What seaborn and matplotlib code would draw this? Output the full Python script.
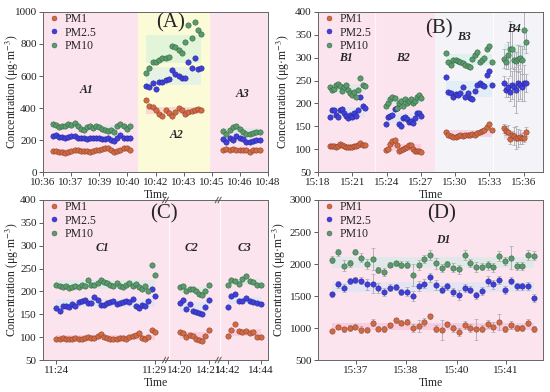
import numpy as np
import pandas as pd
import matplotlib
matplotlib.use("Agg")
import matplotlib.pyplot as plt
import seaborn as sns
from matplotlib.lines import Line2D
from matplotlib.transforms import blended_transform_factory, ScaledTranslation

# ---------------- data ----------------
series = ["PM1", "PM2.5", "PM10"]

# Panel A (x in tick-index units)
a_ticks = ["10:36", "10:37", "10:39", "10:40", "10:42", "10:43", "10:45", "10:46", "10:48"]
a1_pm1 = [130, 130, 128, 125, 120, 128, 132, 138, 140, 130, 132, 130, 128, 130, 135, 140, 145, 148, 150, 135, 128, 130, 135, 148, 152, 140]
a1_pm25 = [222, 230, 218, 220, 215, 218, 225, 222, 212, 215, 210, 208, 212, 210, 215, 212, 208, 205, 210, 200, 195, 212, 232, 215, 212, 210]
a1_pm10 = [300, 295, 280, 285, 290, 300, 295, 305, 285, 270, 265, 280, 290, 275, 285, 280, 270, 260, 255, 265, 250, 285, 300, 285, 270, 285]
a2_pm1 = [450, 415, 405, 390, 360, 350, 385, 370, 350, 375, 400, 385, 365, 375, 380, 385, 395, 385]
a2_pm25 = [535, 530, 555, 520, 560, 565, 575, 580, 640, 610, 600, 590, 585, 690, 650, 715, 645, 650]
a2_pm10 = [620, 650, 690, 690, 700, 715, 710, 720, 790, 780, 760, 745, 810, 920, 840, 940, 890, 860]
a3_pm1 = [140, 142, 140, 142, 140, 138, 140, 135, 125, 138, 140, 135]
a3_pm25 = [205, 185, 210, 200, 222, 215, 205, 185, 190, 195, 200, 198]
a3_pm10 = [255, 240, 265, 280, 290, 270, 250, 240, 238, 245, 252, 248]

# Panel B (x in minutes after 15:18)
b_ticks = ["15:18", "15:21", "15:24", "15:27", "15:30", "15:33", "15:36"]
b1_pm1 = [107, 107, 106, 105, 106, 112, 110, 107, 105, 104, 105, 104, 106, 107, 109, 113, 110, 110]
b1_pm25 = [170, 185, 185, 175, 170, 185, 188, 178, 172, 168, 175, 170, 178, 172, 185, 215, 195, 190]
b1_pm10 = [235, 230, 232, 240, 242, 238, 228, 235, 240, 230, 222, 218, 225, 215, 230, 255, 240, 238]
b2_pm1 = [98, 100, 112, 118, 120, 108, 95, 98, 100, 102, 105, 108, 110, 100, 95, 96, 95, 93]
b2_pm25 = [155, 170, 172, 175, 188, 190, 155, 150, 168, 170, 165, 160, 162, 158, 168, 180, 178, 172]
b2_pm10 = [195, 200, 210, 215, 212, 190, 200, 205, 195, 210, 200, 205, 210, 200, 205, 215, 218, 212]
b3_pm1 = [138, 130, 128, 127, 126, 128, 130, 129, 131, 130, 132, 133, 131, 135, 137, 140, 142, 148, 155, 142]
b3_pm25 = [257, 225, 222, 215, 220, 218, 222, 235, 215, 222, 212, 210, 228, 240, 245, 240, 238, 262, 272, 240]
b3_pm10 = [310, 290, 285, 295, 295, 292, 290, 288, 285, 282, 280, 298, 305, 312, 290, 295, 300, 320, 325, 290]
b4_pm1 = [146, 140, 137, 122, 130, 128, 125, 124, 127, 124, 125, 138]
b4_pm25 = [245, 230, 235, 225, 240, 235, 230, 245, 240, 235, 245, 245]
b4_pm10 = [298, 290, 305, 320, 318, 295, 292, 298, 300, 295, 360, 335]
b4_err_pm1 = [10, 10, 15, 10, 10, 20, 25, 20, 15, 12, 10, 10]
b4_err_pm25 = [15, 15, 20, 20, 30, 40, 50, 40, 30, 30, 40, 20]
b4_err_pm10 = [20, 15, 30, 60, 40, 20, 20, 30, 25, 30, 40, 25]

# Panel C (broken time axis, x in sample-index units)
c_ticks = ["11:24", "11:29", "14:20", "14:21", "14:42", "14:44"]
c1_pm1 = [95, 97, 98, 97, 96, 97, 98, 95, 96, 99, 100, 99, 98, 102, 106, 100, 98, 97, 95, 96, 98, 99, 97, 100, 102, 105, 110, 98, 96, 100, 116, 112]
c1_pm25 = [163, 158, 168, 168, 166, 172, 168, 176, 180, 182, 175, 174, 188, 182, 170, 170, 174, 176, 178, 172, 174, 176, 180, 176, 184, 168, 163, 170, 168, 178, 205, 190]
c1_pm10 = [215, 212, 210, 212, 208, 210, 212, 210, 215, 212, 226, 214, 215, 218, 225, 220, 218, 215, 212, 218, 212, 210, 215, 218, 212, 216, 210, 205, 212, 200, 258, 235]
c2_pm1 = [112, 110, 100, 105, 102, 95, 93, 92, 103, 116]
c2_pm25 = [175, 182, 162, 172, 158, 155, 152, 150, 165, 181]
c2_pm10 = [210, 212, 200, 205, 205, 200, 195, 192, 200, 213]
c3_pm1 = [103, 115, 128, 113, 112, 114, 108, 112, 101, 101]
c3_pm25 = [167, 190, 195, 178, 180, 186, 178, 176, 175, 173]
c3_pm10 = [213, 225, 222, 217, 228, 234, 222, 220, 215, 213]

# Panel D (x in sample-index units)
d_ticks = ["15:37", "15:38", "15:40", "15:41"]
d1_pm1 = [950, 1020, 980, 1000, 1020, 975, 975, 1085, 990, 985, 1040, 1120, 1080, 1100, 1000, 1030, 1090, 1185, 990, 970, 1060, 995, 935, 1045, 1005, 980, 990, 1065, 1015, 1095, 985, 1050, 1000, 1000, 1085, 980]
d1_pm25 = [1530, 1680, 1630, 1730, 1750, 1740, 1680, 1690, 1630, 1560, 1630, 1640, 1560, 1570, 1500, 1660, 1690, 1790, 1670, 1600, 1650, 1560, 1510, 1620, 1600, 1510, 1580, 1730, 1680, 1750, 1590, 1740, 1650, 1650, 1660, 1470]
d1_pm10 = [2070, 2180, 1975, 2010, 2190, 2100, 2000, 2080, 1910, 1880, 1990, 2010, 1990, 1990, 1830, 1980, 2080, 2140, 2010, 1940, 2000, 1940, 1920, 2140, 2020, 1950, 1960, 1980, 1950, 2120, 2050, 2100, 1970, 1970, 2140, 2130]
d1_err_pm1 = [20, 30, 40, 40, 40, 50, 40, 60, 40, 40, 40, 40, 40, 40, 60, 100, 60, 40, 60, 160, 40, 50, 60, 60, 60, 160, 50, 60, 80, 120, 50, 60, 40, 40, 60, 50]
d1_err_pm25 = [40, 50, 60, 50, 50, 60, 80, 150, 80, 60, 50, 50, 50, 70, 80, 80, 70, 70, 80, 60, 60, 60, 80, 60, 60, 60, 60, 80, 70, 60, 60, 60, 60, 60, 60, 60]
d1_err_pm10 = [60, 50, 80, 60, 40, 70, 80, 170, 50, 60, 40, 40, 50, 60, 170, 80, 60, 80, 90, 60, 50, 70, 70, 80, 60, 80, 60, 70, 70, 80, 60, 180, 60, 60, 80, 70]

# ---------------- style ----------------
sns.set_theme(style="ticks")
plt.rcParams["font.family"] = ["Liberation Serif", "DejaVu Serif"]
plt.rcParams["mathtext.fontset"] = "stix"
plt.rcParams["axes.edgecolor"] = "#666666"
plt.rcParams["xtick.color"] = "#444444"
plt.rcParams["ytick.color"] = "#444444"
plt.rcParams["xtick.labelcolor"] = "#222222"
plt.rcParams["ytick.labelcolor"] = "#222222"

colors = {"PM1": "#cf6a45", "PM2.5": "#3f3fdc", "PM10": "#5a9a6c"}
edges = {"PM1": "#8a3a22", "PM2.5": "#222288", "PM10": "#2f5e3c"}
bands = {"PM1": "#f6a9c6", "PM2.5": "#c6e6f7", "PM10": "#bdeedd"}
PINK = "#fce4ef"
YELLOW = "#fcfbd7"
LIGHT = "#f4f3f7"

fig = plt.figure(figsize=(5.5, 3.92), dpi=100)
axA = fig.add_axes([0.0782, 0.5612, 0.4091, 0.4082])
axB = fig.add_axes([0.5782, 0.5612, 0.4091, 0.4082])
axC = fig.add_axes([0.0782, 0.0816, 0.4091, 0.4082])
axD = fig.add_axes([0.5782, 0.0816, 0.4091, 0.4082])


def draw_group(ax, xs, vals, errs=None):
    xs = np.asarray(xs, dtype=float)
    for s in series:
        v = np.asarray(vals[s], dtype=float)
        m, sd = v.mean(), v.std()
        ax.fill_between([xs[0], xs[-1]], m - sd, m + sd, color=bands[s],
                        alpha=0.4, lw=0, zorder=1)
        if errs is not None:
            ax.errorbar(xs, v, yerr=errs[s], fmt="none", ecolor="#a9a9b0",
                        elinewidth=0.6, capsize=1.2, capthick=0.5, zorder=2)
        df = pd.DataFrame({"x": xs, "y": v})
        sns.scatterplot(data=df, x="x", y="y", color=colors[s], s=15,
                        edgecolor=edges[s], linewidth=0.35, ax=ax, zorder=3,
                        legend=False)


def finish(ax, label_pos, label, ylab_x):
    handles = [Line2D([], [], marker="o", ls="", color=colors[s],
                      markeredgecolor=edges[s], markeredgewidth=0.3,
                      markersize=3.6, label=s) for s in series]
    ax.legend(handles=handles, loc="upper left", frameon=False, fontsize=8.5,
              handletextpad=0.4, labelspacing=0.15, borderaxespad=0.1,
              borderpad=0.1, handlelength=1.0, bbox_to_anchor=(0.01, 1.01))
    ax.text(label_pos[0], label_pos[1], label, fontsize=15, ha="center",
            va="center", zorder=5)
    ax.set_xlabel("Time", fontsize=8.5, labelpad=1)
    ax.set_ylabel(r"Concentration (μg·m$^{-3}$)", fontsize=8.5)
    ax.yaxis.set_label_coords(ylab_x, 0.5)
    ax.tick_params(axis="both", labelsize=8, length=3, width=0.6, pad=1.5,
                   direction="out")
    for sp in ax.spines.values():
        sp.set_linewidth(0.7)


def tag(ax, x, y, t):
    ax.text(x, y, t, fontsize=8.5, fontweight="bold", fontstyle="italic",
            ha="center", va="center", zorder=5)


# ---------------- Panel A ----------------
ax = axA
ax.set_xlim(0, 8)
ax.set_ylim(0, 1000)
ax.axvspan(0, 8, color=PINK, zorder=0, lw=0)
ax.axvspan(3.38, 5.95, color=YELLOW, zorder=0, lw=0)
draw_group(ax, np.linspace(0.36, 3.08, len(a1_pm1)),
           {"PM1": a1_pm1, "PM2.5": a1_pm25, "PM10": a1_pm10})
draw_group(ax, np.linspace(3.67, 5.63, len(a2_pm1)),
           {"PM1": a2_pm1, "PM2.5": a2_pm25, "PM10": a2_pm10})
draw_group(ax, np.linspace(6.4, 7.7, len(a3_pm1)),
           {"PM1": a3_pm1, "PM2.5": a3_pm25, "PM10": a3_pm10})
ax.set_xticks(range(len(a_ticks)))
ax.set_xticklabels(a_ticks)
ax.set_yticks(range(0, 1001, 200))
tag(ax, 1.54, 512, "A1")
tag(ax, 4.74, 232, "A2")
tag(ax, 7.1, 485, "A3")
finish(ax, (4.55, 930), "(A)", -0.1)

# ---------------- Panel B ----------------
ax = axB
ax.set_xlim(0, 19.7)
ax.set_ylim(50, 400)
ax.axvspan(0, 10.26, color=PINK, zorder=0, lw=0)
ax.axvspan(10.26, 19.7, color=LIGHT, zorder=0, lw=0)
ax.axvline(4.96, color="white", lw=0.8, alpha=0.7, zorder=0.5)
ax.axvline(15.3, color="white", lw=0.8, alpha=0.9, zorder=0.5)
draw_group(ax, np.linspace(1.02, 4.08, len(b1_pm1)),
           {"PM1": b1_pm1, "PM2.5": b1_pm25, "PM10": b1_pm10})
draw_group(ax, np.linspace(5.98, 9.04, len(b2_pm1)),
           {"PM1": b2_pm1, "PM2.5": b2_pm25, "PM10": b2_pm10})
draw_group(ax, np.linspace(11.2, 15.2, len(b3_pm1)),
           {"PM1": b3_pm1, "PM2.5": b3_pm25, "PM10": b3_pm10})
draw_group(ax, np.linspace(16.3, 18.2, len(b4_pm1)),
           {"PM1": b4_pm1, "PM2.5": b4_pm25, "PM10": b4_pm10},
           errs={"PM1": b4_err_pm1, "PM2.5": b4_err_pm25, "PM10": b4_err_pm10})
ax.set_xticks(range(0, 19, 3))
ax.set_xticklabels(b_ticks)
ax.set_yticks(range(50, 401, 50))
tag(ax, 2.48, 300, "B1")
tag(ax, 7.4, 300, "B2")
tag(ax, 12.8, 345, "B3")
tag(ax, 17.2, 362, "B4")
finish(ax, (10.6, 363), "(B)", -0.115)

# ---------------- Panel C ----------------
ax = axC
ax.set_xlim(-4.2, 66.7)
ax.set_ylim(50, 400)
ax.axvspan(-4.2, 66.7, color=PINK, zorder=0, lw=0)
ax.axvline(35.4, color="white", lw=0.8, alpha=0.8, zorder=0.5)
ax.axvline(51.6, color="white", lw=0.8, alpha=0.8, zorder=0.5)
c1_x = np.arange(len(c1_pm1))
c2_x = 39 + np.arange(len(c2_pm1))
c3_x = 54 + 1.15 * np.arange(len(c3_pm1))
draw_group(ax, c1_x, {"PM1": c1_pm1, "PM2.5": c1_pm25, "PM10": c1_pm10})
draw_group(ax, c2_x, {"PM1": c2_pm1, "PM2.5": c2_pm25, "PM10": c2_pm10})
draw_group(ax, c3_x, {"PM1": c3_pm1, "PM2.5": c3_pm25, "PM10": c3_pm10})
ax.set_xticks([c1_x[0], c1_x[-1], c2_x[0], c2_x[-1], c3_x[0], c3_x[-1]])
ax.set_xticklabels(c_ticks)
tl = ax.get_xticklabels()
tl[3].set_transform(tl[3].get_transform() + ScaledTranslation(-5 / 100, 0, fig.dpi_scale_trans))
tl[4].set_transform(tl[4].get_transform() + ScaledTranslation(5 / 100, 0, fig.dpi_scale_trans))
ax.set_yticks(range(50, 401, 50))
trans = blended_transform_factory(ax.transData, ax.transAxes)
for bx in (34.4, 51.0):
    for by in (0.0, 1.0):
        for dx in (-0.45, 0.45):
            ax.plot([bx + dx - 0.5, bx + dx + 0.5], [by - 0.018, by + 0.018],
                    transform=trans, color="#555555", lw=0.7, clip_on=False,
                    zorder=6)
tag(ax, 14.6, 294, "C1")
tag(ax, 42.7, 294, "C2")
tag(ax, 59.4, 294, "C3")
finish(ax, (33.9, 369), "(C)", -0.1)

# ---------------- Panel D ----------------
ax = axD
ax.set_xlim(-2.47, 36.6)
ax.set_ylim(500, 3000)
ax.axvspan(-2.47, 36.6, color=PINK, zorder=0, lw=0)
draw_group(ax, np.arange(len(d1_pm1)),
           {"PM1": d1_pm1, "PM2.5": d1_pm25, "PM10": d1_pm10},
           errs={"PM1": d1_err_pm1, "PM2.5": d1_err_pm25, "PM10": d1_err_pm10})
ax.set_xticks([4.14, 12.76, 21.67, 30.1])
ax.set_xticklabels(d_ticks)
ax.set_yticks(range(500, 3001, 500))
tag(ax, 19.2, 2380, "D1")
finish(ax, (18.9, 2776), "(D)", -0.135)

fig.savefig("out.png", dpi=100)
